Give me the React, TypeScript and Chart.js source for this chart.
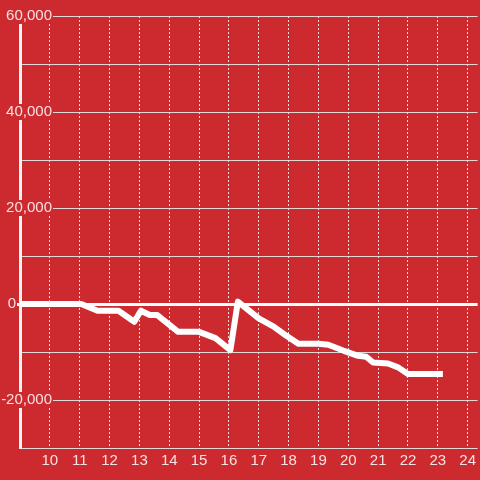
import React, { useEffect, useRef } from "react";
import { Chart, registerables } from "chart.js";

Chart.register(...registerables);

// Data
const hours = [8.9, 11.05, 11.6, 12.3, 12.83, 13.05, 13.35, 13.6, 14.3, 15, 15.55, 16.05, 16.3, 17, 17.5, 17.9, 18.33, 19, 19.33, 19.83, 20.33, 20.6, 20.83, 21.33, 21.67, 22, 23.17];
const balance = [0, 0, -1400, -1400, -3700, -1400, -2300, -2300, -5800, -5800, -7100, -9600, 500, -3000, -4700, -6500, -8300, -8300, -8500, -9700, -10800, -11000, -12200, -12400, -13200, -14600, -14600];
const xTickLabels = ["10", "11", "12", "13", "14", "15", "16", "17", "18", "19", "20", "21", "22", "23", "24"];
const yLabelValues = [60000, 40000, 20000, 0, -20000];

const BG = "#cc2a2f";
const TEXT = "rgba(255,255,255,0.86)";
const FAMILY = "'Liberation Sans', Arial, sans-serif";
const FONT = "15px " + FAMILY;

const yLabelPlugin = {
  id: "yLabels",
  afterDraw(chart: any) {
    const { ctx, chartArea, scales } = chart;
    const y = scales.y;
    ctx.save();
    ctx.font = FONT;
    ctx.textBaseline = "middle";
    ctx.textAlign = "right";
    yLabelValues.forEach((v) => {
      const text = v.toLocaleString("en-US");
      const py = y.getPixelForValue(v);
      const rightX = v === 0 ? chartArea.left - 4 : chartArea.left + 32;
      const w = ctx.measureText(text).width;
      ctx.fillStyle = BG;
      ctx.fillRect(rightX - w - 2, py - 8, w + 3, 16);
      ctx.fillStyle = TEXT;
      ctx.fillText(text, rightX, py);
    });
    ctx.restore();
  },
};

export default function App() {
  const ref = useRef<HTMLCanvasElement>(null);

  useEffect(() => {
    if (!ref.current) return;
    const chart = new Chart(ref.current, {
      type: "line",
      data: {
        datasets: [
          {
            data: hours.map((h, i) => ({ x: h, y: balance[i] })),
            borderColor: "#ffffff",
            borderWidth: 6,
            borderJoinStyle: "round",
            borderCapStyle: "butt",
            pointRadius: 0,
            tension: 0,
            fill: false,
          },
        ],
      },
      options: {
        animation: false,
        responsive: false,
        maintainAspectRatio: false,
        layout: { padding: { top: 16, left: 0, right: 0, bottom: 0 } },
        plugins: { legend: { display: false }, tooltip: { enabled: false } },
        scales: {
          x: {
            type: "linear",
            min: 9,
            max: 24 + 1 / 3,
            afterBuildTicks: (scale: any) => {
              scale.ticks = xTickLabels.map((l) => ({ value: Number(l) }));
            },
            afterFit: (scale: any) => {
              scale.height = 32;
            },
            ticks: {
              stepSize: 1,
              color: TEXT,
              font: { family: FAMILY, size: 15 },
              padding: 4,
              maxRotation: 0,
              autoSkip: false,
              callback: (v: any) => String(v),
            },
            grid: {
              color: "rgba(240,240,240,0.9)",
              lineWidth: 1,
              drawTicks: false,
            },
            border: { display: false, dash: [2, 2] },
          },
          y: {
            type: "linear",
            min: -30000,
            max: 60000,
            afterFit: (scale: any) => {
              scale.width = 20;
            },
            ticks: { stepSize: 10000, display: false },
            grid: {
              color: (c: any) => (c.tick && c.tick.value === 0 ? "#ffffff" : "rgba(225,225,225,0.95)"),
              lineWidth: (c: any) => (c.tick && c.tick.value === 0 ? 3 : 1),
              drawTicks: true,
              tickLength: 3,
              tickWidth: 3,
              tickColor: (c: any) => (c.tick && c.tick.value === 0 ? "#ffffff" : "rgba(0,0,0,0)"),
            },
            border: { display: true, color: "#f4f4f4", width: 3 },
          },
        },
      },
      plugins: [yLabelPlugin],
    });
    return () => chart.destroy();
  }, []);

  return (
    <div style={{ position: "fixed", left: 0, top: 0, width: 480, height: 480, background: BG }}>
      <canvas ref={ref} width={480} height={480} style={{ display: "block" }} />
    </div>
  );
}
